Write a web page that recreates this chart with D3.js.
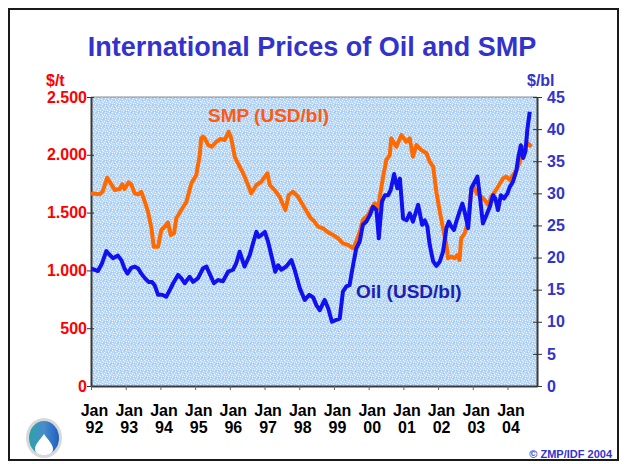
<!DOCTYPE html>
<html>
<head>
<meta charset="utf-8">
<script src="https://cdn.jsdelivr.net/npm/d3@7"></script>
<style>
  body { margin: 0; background: #fff; }
  svg text { font-family: "Liberation Sans", Arial, sans-serif; font-weight: bold; }
</style>
</head>
<body>
<div class="grafico"></div>
<script>
// x values are months counted from Jan 1992
var smpMonth = [0, 0.7, 3, 4, 5.6, 6.8, 8.2, 9.9, 10.8, 11.6, 13, 13.9, 15.1, 16.3, 17.4, 18.6, 19.7, 20.9, 21.7, 23.2,
  24.3, 25.5, 26.6, 27.6, 28.7, 29.5, 31.2, 33, 34.7, 36.4, 37.6, 38.1, 38.7, 39.3, 40.5, 41.8, 43.3, 44.8, 46.2, 47.6,
  48.5, 49.7, 50.8, 52.6, 54.3, 55.4, 57.2, 58.9, 60.1, 61, 61.8, 63.5, 65.2, 67.2, 68.4, 69.8, 71.6, 73.9, 76, 77,
  78.5, 80.2, 82, 83.7, 85.4, 87.1, 88.9, 90.6, 91.7, 92.9, 94, 95.8, 96.9, 98.1, 99.2, 101, 102.1, 103.3, 103.8, 105.6,
  107.3, 109, 110.2, 111.3, 112.5, 114.2, 116, 117.1, 118.3, 119.4, 120.6, 121.7, 122.9, 123.4, 124.6, 125.7, 126.6, 127.4, 128, 129.2,
  130.4, 131.3, 132.1, 133.3, 135, 136.1, 137.3, 138.4, 139.6, 140.7, 142.5, 143.6, 144.8, 145.9, 147.1, 148.3, 149.4, 151.1, 152.3];
var smpValue = [1660, 1665, 1658, 1680, 1802, 1753, 1695, 1704, 1745, 1704, 1762, 1745, 1667, 1658, 1680, 1594, 1508, 1364, 1205, 1205,
  1349, 1378, 1416, 1306, 1321, 1451, 1522, 1594, 1753, 1825, 1998, 2143, 2157, 2143, 2085, 2070, 2113, 2137, 2128, 2200,
  2143, 1983, 1926, 1840, 1739, 1667, 1739, 1767, 1811, 1840, 1739, 1695, 1637, 1522, 1652, 1680, 1637, 1537, 1450, 1430,
  1378, 1364, 1329, 1306, 1278, 1234, 1220, 1191, 1248, 1335, 1436, 1479, 1537, 1580, 1537, 1811, 1955, 1998, 2143, 2070,
  2171, 2113, 2143, 1983, 2085, 2041, 2013, 1940, 1897, 1680, 1508, 1364, 1220, 1105, 1119, 1105, 1133, 1090, 1278, 1321,
  1421, 1652, 1739, 1667, 1637, 1609, 1566, 1637, 1680, 1724, 1797, 1811, 1782, 1825, 1869, 1940, 2056, 2099, 2070];

var oilMonth = [0, 0.7, 2.4, 3.8, 5.3, 6.5, 7.6, 9.3, 10.5, 11.6, 12.6, 13.9, 15.1, 16.3, 17.4, 18.6, 19.9, 21.1, 22, 23.2,
  24.6, 26, 27.2, 28.4, 30.1, 31.2, 32.4, 34.1, 35.3, 37, 38.7, 39.9, 41, 42.5, 43.9, 45.6, 47.4, 49.1, 50.2, 51.4,
  53.1, 54.9, 56, 57.2, 58, 58.9, 60.1, 61.2, 62.6, 63.7, 64.7, 65.8, 67.5, 69.3, 70.4, 72.2, 73.9, 75.5, 76.8, 77.9,
  79.1, 80.8, 82, 83.3, 84.8, 86, 87.1, 88.3, 89.4, 90.6, 91.7, 92.9, 94, 95.2, 96.4, 97.5, 98.7, 99.5, 100.6, 101.6,
  102.7, 103.6, 104.8, 105.9, 106.8, 107.9, 109.1, 110.2, 111.3, 113.1, 114.5, 115.4, 116.3, 117.1, 118.3, 119.4, 120.6, 121.7, 122.9, 123.7,
  124.6, 125.5, 126.3, 127.4, 128.4, 129.2, 130.4, 131.5, 132.7, 133.6, 134.4, 135.5, 136.7, 137.9, 139, 139.8, 140.7, 141.7, 142.8, 144,
  144.8, 145.9, 147.1, 147.7, 148.6, 149.4, 150.2, 150.9, 151.7];
var oilValue = [18.2, 18.2, 17.9, 19.1, 21.0, 20.4, 19.9, 20.3, 19.6, 18.3, 17.5, 18.4, 18.6, 18.3, 17.5, 16.8, 16.2, 16.2, 15.7, 14.2,
  14.2, 13.9, 14.9, 16.0, 17.3, 16.8, 16.0, 17.0, 16.2, 16.8, 18.3, 18.6, 17.5, 16.0, 16.5, 16.3, 17.8, 18.1, 19.1, 20.9,
  18.6, 20.4, 22.2, 24.0, 23.2, 23.5, 24.0, 22.5, 19.9, 17.8, 18.8, 18.1, 18.6, 19.6, 18.1, 15.2, 13.4, 14.2, 13.8, 12.6,
  11.8, 13.4, 12.1, 10.0, 10.3, 10.5, 14.7, 15.5, 15.7, 18.8, 21.4, 22.5, 25.1, 25.6, 26.6, 27.9, 27.4, 23.0, 28.7, 29.7,
  29.7, 30.5, 33.0, 30.8, 32.3, 26.1, 25.8, 26.9, 25.6, 28.2, 25.1, 25.8, 24.8, 22.0, 19.4, 18.7, 19.4, 20.9, 24.6, 25.6,
  24.8, 24.3, 25.6, 27.1, 28.4, 27.1, 24.6, 30.8, 31.8, 32.6, 29.7, 25.3, 26.6, 27.9, 29.7, 29.2, 27.4, 29.7, 29.2, 30.0,
  31.0, 31.8, 33.6, 35.5, 37.5, 35.5, 36.5, 40.1, 42.7];

var xTickMonths = [0, 12, 24, 36, 48, 60, 72, 84, 96, 108, 120, 132, 144];
var xTickYears = ["92", "93", "94", "95", "96", "97", "98", "99", "00", "01", "02", "03", "04"];
var smpTicks = [0, 500, 1000, 1500, 2000, 2500];
var oilTicks = [0, 5, 10, 15, 20, 25, 30, 35, 40, 45];

var width = 624;
var height = 464;

var svg = d3.select(".grafico")
  .append("svg")
  .attr("width", width)
  .attr("height", height);

// outer frame
svg.append("rect")
  .attr("x", 9).attr("y", 9)
  .attr("width", 609).attr("height", 451)
  .attr("fill", "none")
  .attr("stroke", "#1a1a1a")
  .attr("stroke-width", 2);

// title
svg.append("text")
  .attr("x", 312).attr("y", 56)
  .attr("text-anchor", "middle")
  .attr("font-size", 27)
  .attr("fill", "#3333cc")
  .text("International Prices of Oil and SMP");

// plot geometry
var plotL = 91, plotR = 537, plotT = 97, plotB = 386;

var x = d3.scaleLinear().domain([0, 154.2]).range([plotL, plotR]);
var ySmp = d3.scaleLinear().domain([0, 2500]).range([plotB, plotT]);
var yOil = d3.scaleLinear().domain([0, 45]).range([plotB, plotT]);

// speckled light blue background
var defs = svg.append("defs");
var pat = defs.append("pattern")
  .attr("id", "tex")
  .attr("patternUnits", "userSpaceOnUse")
  .attr("width", 7).attr("height", 7);
pat.append("rect").attr("width", 7).attr("height", 7).attr("fill", "#b8d7f6");
[[0, 0], [3, 1], [1, 3], [5, 4], [2, 5], [6, 2], [4, 6], [0, 5], [4, 3]].forEach(function(p) {
  pat.append("rect")
    .attr("x", p[0]).attr("y", p[1])
    .attr("width", 1).attr("height", 1)
    .attr("fill", "#f0f7ff");
});
[[2, 2], [5, 0], [6, 6], [1, 6]].forEach(function(p) {
  pat.append("rect")
    .attr("x", p[0]).attr("y", p[1])
    .attr("width", 1).attr("height", 1)
    .attr("fill", "#a2c8ef");
});

svg.append("rect")
  .attr("x", plotL).attr("y", plotT)
  .attr("width", plotR - plotL).attr("height", plotB - plotT)
  .attr("fill", "url(#tex)");
svg.append("line")
  .attr("x1", plotL).attr("x2", plotR)
  .attr("y1", plotT).attr("y2", plotT)
  .attr("stroke", "#8c8c8c");

// left axis (SMP, $/t)
var fmt = d3.formatLocale({ decimal: ",", thousands: ".", grouping: [3], currency: ["", ""] }).format(",");
var gLeft = svg.append("g")
  .attr("transform", "translate(" + plotL + ",0)")
  .call(d3.axisLeft(ySmp).tickValues(smpTicks).tickFormat(fmt).tickSize(4).tickSizeOuter(0));
gLeft.selectAll(".tick line").attr("x1", 3).attr("stroke", "#333");
gLeft.selectAll(".tick text")
  .attr("x", -4)
  .attr("font-size", 16)
  .attr("fill", "#ff0000");

// right axis (Oil, $/bl)
var gRight = svg.append("g")
  .attr("transform", "translate(" + plotR + ",0)")
  .call(d3.axisRight(yOil).tickValues(oilTicks).tickSize(5).tickSizeOuter(0));
gRight.selectAll(".tick line").attr("x1", -4).attr("stroke", "#333");
gRight.selectAll(".tick text")
  .attr("x", 10)
  .attr("font-size", 16)
  .attr("fill", "#3333cc");

// bottom axis
var gBottom = svg.append("g")
  .attr("transform", "translate(0," + plotB + ")")
  .call(d3.axisBottom(x).tickValues(xTickMonths).tickFormat("").tickSize(4).tickSizeOuter(0));
gBottom.selectAll(".tick line").attr("stroke", "#666");
var lab = gBottom.selectAll(".tick").append("text")
  .attr("fill", "#000")
  .attr("font-size", 16)
  .attr("text-anchor", "middle")
  .attr("x", 3);
lab.append("tspan").attr("x", 3).attr("y", 30).text("Jan");
lab.append("tspan").attr("x", 3).attr("y", 47).text(function(d, i) { return xTickYears[i]; });

[gLeft, gRight, gBottom].forEach(function(g) {
  g.select(".domain").attr("stroke", "#3a3a3a").attr("stroke-width", 2);
  g.selectAll("text").attr("font-family", "'Liberation Sans', Arial, sans-serif").attr("font-weight", "bold");
});

// unit labels
svg.append("text").attr("x", 46).attr("y", 86).attr("font-size", 16).attr("fill", "#ff0000").text("$/t");
svg.append("text").attr("x", 527).attr("y", 86).attr("font-size", 16).attr("fill", "#3333cc").text("$/bl");

// lines
var smpLine = d3.line()
  .x(function(d) { return x(d[0]); })
  .y(function(d) { return ySmp(d[1]); });
var oilLine = d3.line()
  .x(function(d) { return x(d[0]); })
  .y(function(d) { return yOil(d[1]); });

svg.append("path")
  .datum(d3.zip(smpMonth, smpValue))
  .attr("d", smpLine)
  .attr("fill", "none")
  .attr("stroke", "#ff6a00")
  .attr("stroke-width", 4)
  .attr("stroke-linejoin", "round");

svg.append("path")
  .datum(d3.zip(oilMonth, oilValue))
  .attr("d", oilLine)
  .attr("fill", "none")
  .attr("stroke", "#1010f0")
  .attr("stroke-width", 4)
  .attr("stroke-linejoin", "round");

// series labels
svg.append("text").attr("x", 208).attr("y", 122).attr("font-size", 19).attr("fill", "#ff5a10").text("SMP (USD/bl)");
svg.append("text").attr("x", 356).attr("y", 298).attr("font-size", 19).attr("fill", "#2020b0").text("Oil (USD/bl)");

// logo at the bottom left
var logo = svg.append("g").attr("transform", "translate(44,438)");
var grad = defs.append("linearGradient").attr("id", "logoGrad").attr("x1", "0").attr("x2", "1");
grad.append("stop").attr("offset", "0%").attr("stop-color", "#2aa3a8");
grad.append("stop").attr("offset", "50%").attr("stop-color", "#4a8ccc");
grad.append("stop").attr("offset", "100%").attr("stop-color", "#1f5fc0");
logo.append("ellipse").attr("rx", 18).attr("ry", 20).attr("fill", "#d8d8d8");
logo.append("ellipse").attr("rx", 15).attr("ry", 17).attr("fill", "url(#logoGrad)");
logo.append("path")
  .attr("d", "M0,-4 C4,2 9,6 9,11 C9,15 5,17 0,17 C-5,17 -9,15 -9,11 C-9,6 -4,2 0,-4 Z")
  .attr("fill", "#fff");

// copyright
svg.append("text")
  .attr("x", 612).attr("y", 458)
  .attr("text-anchor", "end")
  .attr("font-size", 11)
  .attr("fill", "#3333cc")
  .text("© ZMP/IDF 2004");
</script>
</body>
</html>
